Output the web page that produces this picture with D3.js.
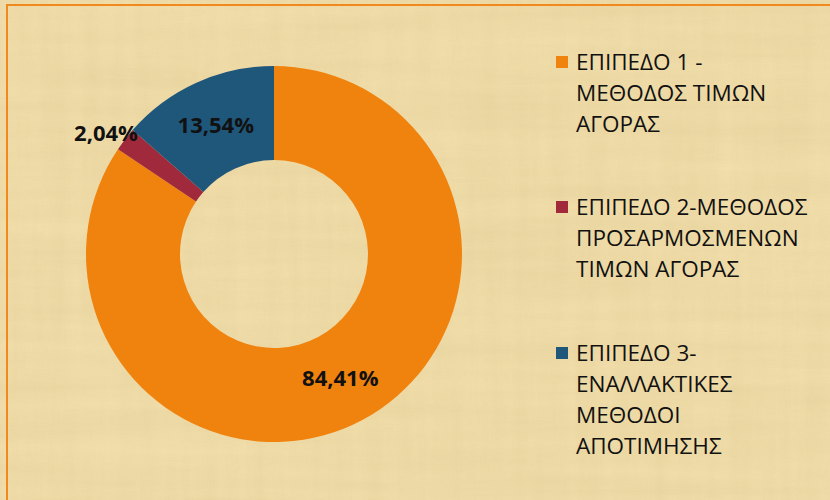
<!DOCTYPE html>
<html>
<head>
<meta charset="utf-8">
<script src="https://cdn.jsdelivr.net/npm/d3@7"></script>
<style>
  html, body { margin: 0; padding: 0; background: #f0dca8; }
  svg { display: block; }
</style>
</head>
<body>
<svg id="chart" width="830" height="500"></svg>
<script>
// ** Data **
const categories = [
  ["ΕΠΙΠΕΔΟ 1 -", "ΜΕΘΟΔΟΣ ΤΙΜΩΝ", "ΑΓΟΡΑΣ"],
  ["ΕΠΙΠΕΔΟ 2-ΜΕΘΟΔΟΣ", "ΠΡΟΣΑΡΜΟΣΜΕΝΩΝ", "ΤΙΜΩΝ ΑΓΟΡΑΣ"],
  ["ΕΠΙΠΕΔΟ 3-", "ΕΝΑΛΛΑΚΤΙΚΕΣ", "ΜΕΘΟΔΟΙ", "ΑΠΟΤΙΜΗΣΗΣ"]
];
const shares = [84.41, 2.04, 13.54];
const shareLabels = ["84,41%", "2,04%", "13,54%"];
const colors = ["#f0820e", "#a0293b", "#1f577b"];

// ** Layout constants **
const cx = 274, cy = 254;
const outerR = 188, innerR = 94;
const fontFam = "'Open Sans', 'Noto Sans', sans-serif";

let svg = d3.select("#chart");

// parchment-like background (two faint streak layers)
let defs = svg.append("defs");
function paperFilter(id, freq, seed, alpha) {
  let f = defs.append("filter").attr("id", id)
    .attr("x", 0).attr("y", 0).attr("width", "100%").attr("height", "100%");
  f.append("feTurbulence")
    .attr("type", "fractalNoise")
    .attr("baseFrequency", freq)
    .attr("numOctaves", 3)
    .attr("seed", seed);
  f.append("feColorMatrix")
    .attr("type", "matrix")
    .attr("values", `0 0 0 0 0.62  0 0 0 0 0.47  0 0 0 0 0.2  0 0 0 ${alpha} -0.05`);
}
paperFilter("paperH", "0.003 0.05", 4, 0.4);
paperFilter("paperV", "0.06 0.004", 9, 0.35);

svg.append("rect")
  .attr("width", 830).attr("height", 500)
  .style("fill", "#f2dfac");
svg.append("rect")
  .attr("width", 830).attr("height", 500)
  .attr("filter", "url(#paperH)")
  .style("opacity", 0.6);
svg.append("rect")
  .attr("width", 830).attr("height", 500)
  .attr("filter", "url(#paperV)")
  .style("opacity", 0.45);

// outer frame (only top and left edges are visible)
svg.append("rect")
  .attr("x", 7).attr("y", 5)
  .attr("width", 840).attr("height", 520)
  .style("fill", "none")
  .style("stroke", "#f08a1e")
  .style("stroke-width", 2);

// ** Donut **
let pie = d3.pie().sort(null).value(d => d)(shares);
let arc = d3.arc().innerRadius(innerR).outerRadius(outerR);

let g = svg.append("g").attr("transform", `translate(${cx},${cy})`);

g.selectAll("path.slice")
  .data(pie)
  .enter()
  .append("path")
  .attr("class", "slice")
  .attr("d", arc)
  .style("fill", (d, i) => colors[i]);

// data labels: inside for big slices, outside for the tiny one
let outArc = d3.arc().innerRadius(212).outerRadius(212);
g.selectAll("text.lbl")
  .data(pie)
  .enter()
  .append("text")
  .attr("class", "lbl")
  .attr("transform", function(d) {
    let small = (d.endAngle - d.startAngle) < 0.3;
    let p = small ? outArc.centroid(d) : arc.centroid(d);
    if (small) p[1] += 8;
    return `translate(${p[0]},${p[1]})`;
  })
  .attr("text-anchor", "middle")
  .attr("dy", "0.36em")
  .style("font-family", fontFam)
  .style("font-weight", "bold")
  .style("font-size", "22px")
  .style("fill", "#111")
  .text((d, i) => shareLabels[i]);

// ** Legend **
const legX = 556, legTextX = 576;
const lineH = 31;
const legTops = [62, 207, 353];   // centre of first line of each entry

let leg = svg.append("g").attr("class", "legend");
categories.forEach(function(lines, i) {
  leg.append("rect")
    .attr("x", legX).attr("y", legTops[i] - 6)
    .attr("width", 12).attr("height", 12)
    .style("fill", colors[i]);
  lines.forEach(function(line, j) {
    leg.append("text")
      .attr("x", legTextX)
      .attr("y", legTops[i] + j * lineH)
      .attr("dy", "0.36em")
      .style("font-family", fontFam)
      .style("font-size", "22.5px")
      .style("fill", "#111")
      .text(line);
  });
});
</script>
</body>
</html>
